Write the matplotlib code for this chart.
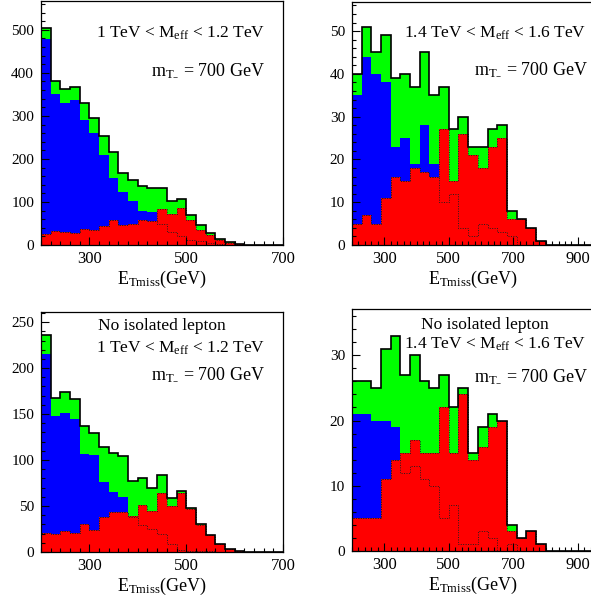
import numpy as np
import matplotlib.pyplot as plt
from matplotlib.ticker import MultipleLocator

plt.rcParams['font.family'] = ['Liberation Serif', 'DejaVu Serif']
plt.rcParams['mathtext.fontset'] = 'custom'
plt.rcParams['mathtext.rm'] = 'Liberation Serif'
plt.rcParams['mathtext.it'] = 'Liberation Serif:italic'

RED = "#ff0000"
BLUE = "#0000ff"
GREEN = "#00ff00"

# bin edges: 20 GeV bins (200-700) and 30 GeV bins (200-950)
edges_lo = np.linspace(200, 700, 26)
edges_hi = np.linspace(200, 950, 26)

# signal (green on top, also the dotted line), red bkg, blue bkg
# top left: 1 TeV < Meff < 1.2 TeV
sig_1 = [26, 32, 31, 29, 38, 35, 44, 59, 46, 48, 57, 56, 48, 31, 22, 12, 10, 4, 2, 1, 0, 0, 0, 0, 0]
red_1 = [0, 0, 0, 0, 0, 0, 0, 0, 0, 0, 0, 0, 36, 40, 63, 46, 26, 19, 9, 4, 2, 0, 0, 0, 0]
blue_1 = [453, 318, 300, 309, 253, 225, 166, 97, 76, 55, 22, 21, 0, 0, 0, 0, 0, 0, 0, 0, 0, 0, 0, 0, 0]

# top right: 1.4 TeV < Meff < 1.6 TeV
sig_2 = [5, 7, 5, 11, 16, 15, 18, 17, 16, 10, 12, 4, 2, 5, 4, 3, 2, 0, 0, 0, 0, 0, 0, 0, 0]
red_2 = [0, 0, 0, 0, 0, 0, 0, 0, 0, 17, 3, 22, 19, 13, 19, 22, 4, 6, 4, 1, 0, 0, 0, 0, 0]
blue_2 = [30, 37, 35, 27, 7, 10, 1, 11, 3, 0, 0, 0, 0, 0, 0, 0, 0, 0, 0, 0, 0, 0, 0, 0, 0]

# bottom left: no isolated lepton, 1 TeV < Meff < 1.2 TeV
sig_3 = [21, 20, 23, 21, 30, 24, 38, 43, 44, 38, 29, 25, 20, 9, 2, 1, 1, 1, 0, 0, 0, 0, 0, 0, 0]
red_3 = [0, 0, 0, 0, 0, 0, 0, 0, 0, 1, 22, 20, 44, 41, 62, 46, 28, 17, 9, 3, 1, 0, 0, 0, 0]
blue_3 = [194, 128, 128, 124, 77, 81, 38, 22, 16, 0, 0, 0, 0, 0, 0, 0, 0, 0, 0, 0, 0, 0, 0, 0, 0]

# bottom right: no isolated lepton, 1.4 TeV < Meff < 1.6 TeV
sig_4 = [5, 5, 5, 11, 14, 12, 13, 11, 10, 5, 7, 1, 1, 3, 2, 0, 1, 0, 0, 0, 0, 0, 0, 0, 0]
red_4 = [0, 0, 0, 0, 0, 3, 4, 4, 5, 17, 8, 23, 13, 13, 17, 20, 2, 2, 3, 1, 0, 0, 0, 0, 0]
blue_4 = [16, 16, 15, 9, 5, 0, 0, 0, 0, 0, 0, 0, 0, 0, 0, 0, 0, 0, 0, 0, 0, 0, 0, 0, 0]

W, H = 591, 599
fig = plt.figure(figsize=(W / 100, H / 100), dpi=100)


def px_rect(left, top, right, bottom):
    return [left / W, 1 - bottom / H, (right - left) / W, (bottom - top) / H]


def panel(rect, edges, sig, red, blue, ymax, ymaj, ymin, xticks):
    ax = fig.add_axes(rect)
    sig = np.array(sig, float)
    r = sig + np.array(red, float)
    b = r + np.array(blue, float)
    t = b + sig
    ax.stairs(t, edges, fill=True, color=GREEN, lw=0)
    ax.stairs(b, edges, fill=True, color=BLUE, lw=0)
    ax.stairs(r, edges, fill=True, color=RED, lw=0)
    dots = (0, (1, 1.5))
    ax.stairs(r, edges, color="#202020", lw=0.7, ls=dots)
    ax.stairs(sig, edges, color="#202020", lw=0.7, ls=dots)
    ax.stairs(t, edges, color="k", lw=1.2)
    ax.set_xlim(edges[0], edges[-1])
    ax.set_ylim(0, ymax)
    ax.set_xticks(xticks)
    ax.xaxis.set_minor_locator(MultipleLocator(20))
    ax.yaxis.set_major_locator(MultipleLocator(ymaj))
    ax.yaxis.set_minor_locator(MultipleLocator(ymin))
    ax.tick_params(which="both", direction="in", top=False, right=False)
    ax.tick_params(which="major", length=6, width=0.8)
    ax.tick_params(which="minor", length=3, width=0.8)
    ax.tick_params(axis="x", labelsize=12, pad=4)
    ax.tick_params(axis="y", labelsize=11, pad=5)
    for s in ax.spines.values():
        s.set_linewidth(0.9)
    ax.set_xlabel(r"E$_{\mathrm{Tmiss}}$(GeV)", fontsize=13, labelpad=2)
    return ax


panel(px_rect(41, 1, 283, 245), edges_lo, sig_1, red_1, blue_1, 567, 100, 20, [300, 500, 700])
panel(px_rect(352, 2, 594, 245), edges_hi, sig_2, red_2, blue_2, 56.8, 10, 2, [300, 500, 700, 900])
panel(px_rect(41, 312, 283, 552), edges_lo, sig_3, red_3, blue_3, 261, 50, 10, [300, 500, 700])
panel(px_rect(352, 309, 594, 551), edges_hi, sig_4, red_4, blue_4, 37.1, 10, 2, [300, 500, 700, 900])

meff_lo = r"1 TeV < M$_{\mathrm{eff}}$ < 1.2 TeV"
meff_hi = r"1.4 TeV < M$_{\mathrm{eff}}$ < 1.6 TeV"
mt = r"m$_{\mathrm{T}_{-}}$ = 700 GeV"


def label(x, y, s, ha="right", size=12.5):
    fig.text(x / W, 1 - y / H, s, ha=ha, va="center", fontsize=size)


label(265, 33, meff_lo)
label(265, 70, mt, size=13)
label(586, 33, meff_hi)
label(588, 69, mt, size=13)

label(162, 326, "No isolated lepton", ha="center")
label(265, 348, meff_lo)
label(265, 374, mt, size=13)
label(485, 325, "No isolated lepton", ha="center")
label(586, 344, meff_hi)
label(588, 376, mt, size=13)

fig.savefig("out.png", dpi=100)
